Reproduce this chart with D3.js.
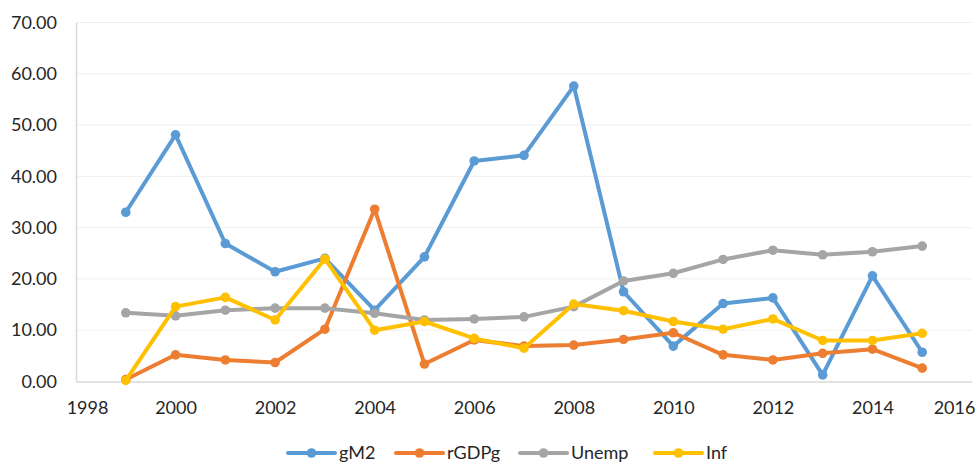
<!DOCTYPE html>
<html>
<head>
<meta charset="utf-8">
<script src="https://cdn.jsdelivr.net/npm/d3@7"></script>
<style>
  html, body { margin: 0; padding: 0; background: #fff; }
  svg { display: block; }
  text { font-family: Lato, "Open Sans", sans-serif; fill: #262626; }
</style>
</head>
<body>
<svg id="chart" width="977" height="462"></svg>
<script>
// Annual indicators, 1999–2015
const years  = [1999, 2000, 2001, 2002, 2003, 2004, 2005, 2006, 2007, 2008, 2009, 2010, 2011, 2012, 2013, 2014, 2015];
const gM2    = [33.0, 48.1, 26.9, 21.4, 24.0, 13.9, 24.3, 43.0, 44.1, 57.6, 17.5, 6.9, 15.2, 16.3, 1.3, 20.6, 5.7];
const rGDPg  = [0.4, 5.2, 4.2, 3.7, 10.2, 33.6, 3.4, 8.1, 6.9, 7.1, 8.2, 9.5, 5.2, 4.2, 5.5, 6.3, 2.6];
const Unemp  = [13.4, 12.8, 13.9, 14.3, 14.3, 13.3, 12.0, 12.2, 12.6, 14.6, 19.6, 21.1, 23.8, 25.6, 24.7, 25.3, 26.4];
const Inf    = [0.2, 14.6, 16.4, 12.0, 23.9, 10.0, 11.7, 8.4, 6.5, 15.1, 13.8, 11.7, 10.2, 12.2, 8.0, 8.0, 9.4];
const seriesNames = ["gM2", "rGDPg", "Unemp", "Inf"];
const seriesData  = [gM2, rGDPg, Unemp, Inf];
const colors      = ["#5B9BD5", "#ED7D31", "#A5A5A5", "#FFC000"];
const xTicks = [1998, 2000, 2002, 2004, 2006, 2008, 2010, 2012, 2014, 2016];
const yTicks = [0, 10, 20, 30, 40, 50, 60, 70];

const svg = d3.select("#chart");
const plotLeft = 76, plotRight = 972, plotTop = 22.5, plotBottom = 381.5;

const x = d3.scaleLinear().domain([1998, 2016]).range([plotLeft, plotRight]);
const y = d3.scaleLinear().domain([0, 70]).range([plotBottom, plotTop]);

// horizontal gridlines
svg.append("g")
  .selectAll("line")
  .data(yTicks.filter(t => t > 0))
  .join("line")
  .attr("x1", plotLeft).attr("x2", plotRight)
  .attr("y1", d => y(d)).attr("y2", d => y(d))
  .attr("stroke", "#f0f0f0").attr("stroke-width", 1);

// y axis
const yAxis = svg.append("g")
  .attr("transform", `translate(${plotLeft},0)`)
  .call(d3.axisLeft(y).tickValues(yTicks).tickFormat(d3.format(".2f")).tickSize(0).tickPadding(19));
yAxis.select(".domain").attr("stroke", "#d9d9d9").attr("stroke-width", 1.5);
yAxis.selectAll("text").style("font-size", "18px").attr("fill", "#262626");

// x axis
const xAxis = svg.append("g")
  .attr("transform", `translate(0,${plotBottom})`)
  .call(d3.axisBottom(x).tickValues(xTicks).tickFormat(d3.format("d")).tickSize(0).tickPadding(20));
xAxis.select(".domain").attr("stroke", "#d9d9d9").attr("stroke-width", 1.5);
xAxis.selectAll("text").style("font-size", "18px").attr("fill", "#262626")
  .attr("dx", d => d === 1998 ? 11 : (d === 2016 ? -18 : 0));

// series lines and markers
const line = d3.line().x((d, i) => x(years[i])).y(d => y(d));
seriesData.forEach((vals, k) => {
  const g = svg.append("g");
  g.append("path")
    .datum(vals)
    .attr("d", line)
    .attr("fill", "none")
    .attr("stroke", colors[k])
    .attr("stroke-width", 4)
    .attr("stroke-linejoin", "round")
    .attr("stroke-linecap", "round");
  g.selectAll("circle")
    .data(vals)
    .join("circle")
    .attr("cx", (d, i) => x(years[i]))
    .attr("cy", d => y(d))
    .attr("r", 4.8)
    .attr("fill", colors[k]);
});

// legend
const legendX = [288, 396, 520, 655];
const legend = svg.append("g").attr("transform", "translate(0,453)");
seriesNames.forEach((name, k) => {
  const g = legend.append("g").attr("transform", `translate(${legendX[k]},0)`);
  g.append("line").attr("x1", 0).attr("x2", 47).attr("y1", 0).attr("y2", 0)
    .attr("stroke", colors[k]).attr("stroke-width", 4).attr("stroke-linecap", "round");
  g.append("circle").attr("cx", 23.5).attr("cy", 0).attr("r", 4.8).attr("fill", colors[k]);
  g.append("text").attr("x", 51).attr("y", 0).attr("dy", "0.35em")
    .style("font-size", "18px").text(name);
});
</script>
</body>
</html>
